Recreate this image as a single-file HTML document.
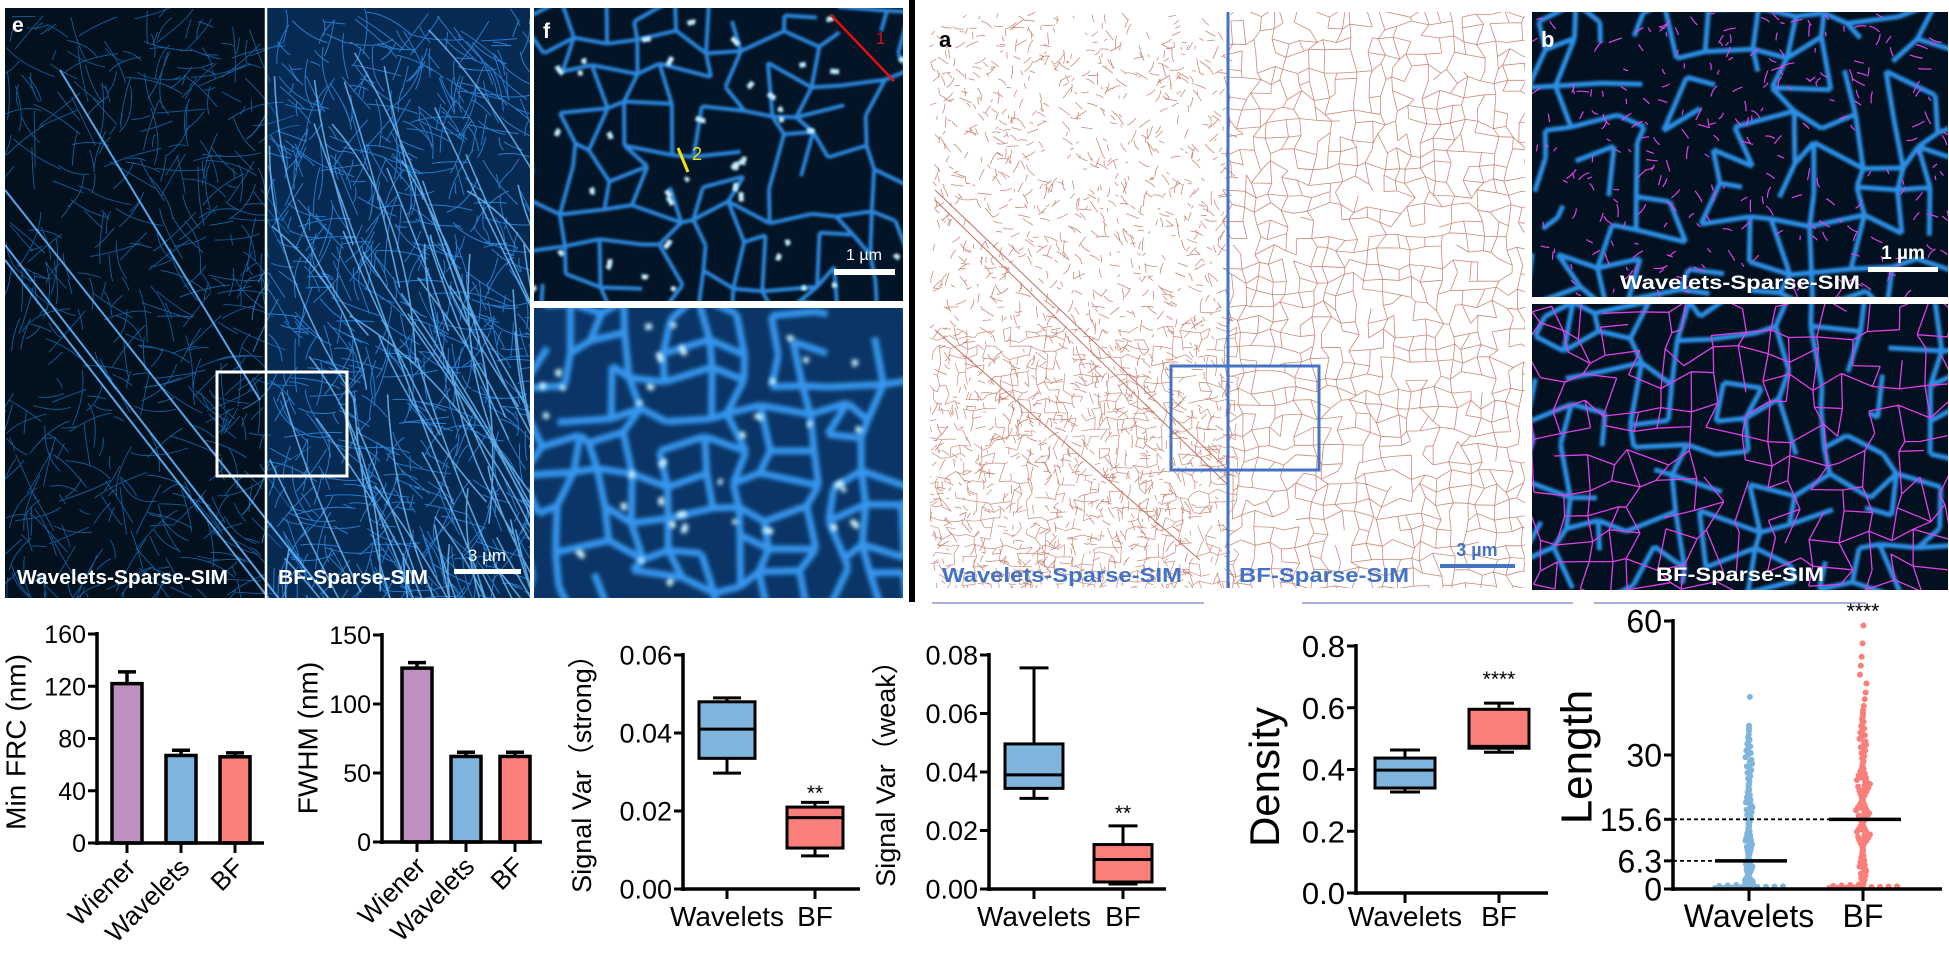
<!DOCTYPE html>
<html><head><meta charset="utf-8"><title>Sparse-SIM figure</title>
<style>
html,body{margin:0;padding:0;background:#fff;}
svg{display:block;font-family:"Liberation Sans",Arial,sans-serif;}
</style></head>
<body>
<svg id="fig" width="1949" height="953" viewBox="0 0 1949 953" xmlns="http://www.w3.org/2000/svg">
<defs>
<clipPath id="cE"><rect x="5" y="8" width="525" height="590"/></clipPath>
<clipPath id="cF1"><rect x="534" y="8" width="369" height="293"/></clipPath>
<clipPath id="cF2"><rect x="534" y="308" width="369" height="290"/></clipPath>
<clipPath id="cA"><rect x="930" y="12" width="595" height="576"/></clipPath>
<clipPath id="cB1"><rect x="1532" y="12" width="416" height="285"/></clipPath>
<clipPath id="cB2"><rect x="1532" y="304" width="416" height="286"/></clipPath>
<filter id="bl1"><feGaussianBlur stdDeviation="1.2"/></filter>
<filter id="bl2"><feGaussianBlur stdDeviation="2.2"/></filter>
</defs>
<g id="tex"></g>
<g id="overlay">
  <rect x="217" y="372" width="130" height="104" fill="none" stroke="#fff" stroke-width="3"/>
  <line x1="266" y1="8" x2="266" y2="598" stroke="#fff" stroke-width="2.5"/>
  <text x="12" y="32" fill="#fff" font-weight="bold" font-size="21">e</text>
  <rect x="454" y="569" width="67" height="5" fill="#fff"/>
  <text x="487" y="561" fill="#fff" font-size="17" text-anchor="middle">3 µm</text>
  <text x="17" y="584" fill="#fff" font-weight="bold" font-size="20" textLength="211" lengthAdjust="spacingAndGlyphs">Wavelets-Sparse-SIM</text>
  <text x="278" y="584" fill="#fff" font-weight="bold" font-size="20" textLength="150" lengthAdjust="spacingAndGlyphs">BF-Sparse-SIM</text>
  <text x="543" y="38" fill="#fff" font-weight="bold" font-size="21">f</text>
  <line x1="831" y1="15" x2="894" y2="81" stroke="#e01010" stroke-width="2.5"/>
  <text x="876" y="44" fill="#e01010" font-size="17">1</text>
  <line x1="678" y1="148" x2="688" y2="172" stroke="#f5e010" stroke-width="3"/>
  <text x="692" y="160" fill="#f5e010" font-size="18">2</text>
  <rect x="834" y="269" width="61" height="6" fill="#fff"/>
  <text x="864" y="260" fill="#fff" font-size="16" text-anchor="middle">1 µm</text>
  <rect x="903" y="0" width="27" height="600" fill="#fff"/>
  <rect x="909" y="0" width="6" height="602" fill="#000"/>
  <line x1="1228" y1="12" x2="1228" y2="588" stroke="#4472c4" stroke-width="3"/>
  <rect x="1171" y="366" width="148" height="104" fill="none" stroke="#4472c4" stroke-width="3"/>
  <text x="939" y="47" fill="#000" font-weight="bold" font-size="22">a</text>
  <rect x="1440" y="564" width="75" height="4" fill="#4472c4"/>
  <text x="1477" y="556" fill="#4472c4" font-weight="bold" font-size="18" text-anchor="middle">3 µm</text>
  <text x="942" y="582" fill="#4472c4" font-weight="bold" font-size="20" textLength="240" lengthAdjust="spacingAndGlyphs">Wavelets-Sparse-SIM</text>
  <text x="1239" y="582" fill="#4472c4" font-weight="bold" font-size="20" textLength="170" lengthAdjust="spacingAndGlyphs">BF-Sparse-SIM</text>
  <rect x="1532" y="297" width="416" height="7" fill="#fff"/>
  <text x="1541" y="47" fill="#fff" font-weight="bold" font-size="22">b</text>
  <rect x="1868" y="267" width="70" height="5" fill="#fff"/>
  <text x="1903" y="259" fill="#fff" font-weight="bold" font-size="19" text-anchor="middle">1 µm</text>
  <text x="1740" y="289" fill="#fff" font-weight="bold" font-size="19" text-anchor="middle" textLength="240" lengthAdjust="spacingAndGlyphs">Wavelets-Sparse-SIM</text>
  <text x="1740" y="581" fill="#fff" font-weight="bold" font-size="19" text-anchor="middle" textLength="168" lengthAdjust="spacingAndGlyphs">BF-Sparse-SIM</text>
  <line x1="932" y1="603" x2="1204" y2="603" stroke="#aab0dd" stroke-width="2"/>
  <line x1="1302" y1="603" x2="1573" y2="603" stroke="#aab0dd" stroke-width="2"/>
  <line x1="1594" y1="603" x2="1866" y2="603" stroke="#aab0dd" stroke-width="2"/>
</g>
<g id="charts"></g>
</svg>
<script>
// ---------- chart data ----------
const barCats = ["Wiener", "Wavelets", "BF"];
const frcVals = [122, 67, 66];
const frcErr = [131, 71, 69];
const frcTicks = [0, 40, 80, 120, 160];
const fwhmVals = [126, 62, 62];
const fwhmErr = [130, 65, 65];
const fwhmTicks = [0, 50, 100, 150];
const boxCats = ["Wavelets", "BF"];
const strongWav = [0.0297, 0.0335, 0.041, 0.048, 0.049];
const strongBF = [0.0085, 0.0105, 0.0183, 0.021, 0.0222];
const strongTicks = ["0.00", "0.02", "0.04", "0.06"];
const weakWav = [0.031, 0.0344, 0.039, 0.0496, 0.0756];
const weakBF = [0.0017, 0.0024, 0.0101, 0.0152, 0.0216];
const weakTicks = ["0.00", "0.02", "0.04", "0.06", "0.08"];
const densWav = [0.327, 0.340, 0.398, 0.437, 0.463];
const densBF = [0.456, 0.469, 0.475, 0.595, 0.615];
const densTicks = ["0.0", "0.2", "0.4", "0.6", "0.8"];
const lenTicks = [0, 6.3, 15.6, 30, 60];
const lenMedians = [6.3, 15.6];
const wavLengths = [0.2,0.25,0.3,0.35,0.4,0.45,0.5,0.55,0.6,0.7,0.8,0.9,1,1.1,1.3,1.5,1.8,2,2.3,2.6,3,3.3,3.7,4.1,4.5,5,5.5,6,6.6,7.2,7.8,8.5,9.2,10,10.8,11.6,12.5,13.4,14.3,15.2,16.2,17.2,18.3,19.4,20.5,21.6,22.8,24,25.3,26.6,28,29.5,31,32.5,34,36,43];
const bfLengths = [0.2,0.25,0.3,0.35,0.4,0.45,0.5,0.55,0.6,0.7,0.8,0.9,1,1.3,2,3,4,5,6,7,8,9,10,10.8,11.5,12.2,12.8,13.4,14,14.6,15.2,15.8,16.4,17,17.6,18.2,18.8,19.5,20.2,21,21.8,22.6,23.5,24.4,25.4,26.4,27.5,28.6,29.8,31,32.3,33.6,35,36.5,38,39.5,41,42.5,44,46,48,50,52,55,59];

const NS = 'http://www.w3.org/2000/svg';
function mk(tag, attrs, parent) {
  const e = document.createElementNS(NS, tag);
  for (const k in attrs) e.setAttribute(k, attrs[k]);
  parent.appendChild(e);
  return e;
}
const charts = document.getElementById('charts');

function axes(g, ax, y0, yTop, xEnd, tickVals, tickLabels, yScale, fs, label, labelX, labelY, labelFs) {
  let e = mk('line', {x1: ax, y1: yTop - 2, x2: ax, y2: y0 + 2, stroke: '#000', 'stroke-width': 3.5}, g);
  
  
  e = mk('line', {x1: ax - 2, y1: y0, x2: xEnd, y2: y0, stroke: '#000', 'stroke-width': 3.5}, g);
  
  
  tickVals.forEach((v, i) => {
    const y = yScale(v);
    let t = mk('line', {x1: ax - 9, y1: y, x2: ax, y2: y, stroke: '#000', 'stroke-width': 3}, g);
    
    
    let tx = mk('text', {x: ax - 11, y: y + fs * 0.36, 'font-size': fs, 'text-anchor': 'end', fill: '#000'}, g);
    tx.textContent = tickLabels[i];
    
    
  });
  let yl = mk('text', {x: labelX, y: labelY, 'font-size': labelFs, 'text-anchor': 'middle', fill: '#000', transform: `rotate(-90 ${labelX} ${labelY})`, 'dominant-baseline': 'middle'}, g);
  yl.textContent = label;
  
  
}

function barChart(name, ax, y0, yTop, maxV, xEnd, vals, errs, ticks, label, labelX, labelY, gap0, step) {
  const g = mk('g', {}, charts);
  
  
  const ys = v => y0 - (v / maxV) * (y0 - yTop);
  const colors = ['#bf8fbf', '#7fb5dc', '#fa7f7a'];
  vals.forEach((v, i) => {
    const cx = ax + gap0 + i * step;
    let eb = mk('line', {x1: cx, y1: ys(errs[i]), x2: cx, y2: ys(v), stroke: '#000', 'stroke-width': 3.5}, g);
    
    
    let ec = mk('line', {x1: cx - 9, y1: ys(errs[i]), x2: cx + 9, y2: ys(errs[i]), stroke: '#000', 'stroke-width': 3.5}, g);
    
    
    let r = mk('rect', {x: cx - 15, y: ys(v), width: 30, height: y0 - ys(v), fill: colors[i], stroke: '#000', 'stroke-width': 3.5}, g);
    
    
    let t = mk('line', {x1: cx, y1: y0, x2: cx, y2: y0 + 10, stroke: '#000', 'stroke-width': 3}, g);
    
    
    let lx = cx + 10, ly = y0 + 26;
    let tl = mk('text', {x: lx, y: ly, 'font-size': 26, 'text-anchor': 'end', fill: '#000', transform: `rotate(-45 ${lx} ${ly})`}, g);
    tl.textContent = barCats[i];
    
    
  });
  axes(g, ax, y0, yTop, xEnd, ticks, ticks.map(String), ys, 25, label, labelX, labelY, 28);
}

function boxChart(name, ax, y0, yTop, maxV, xEnd, series, ticks, label, labelX, labelY, labelFs, tickFs, centers, hw, stars, starY) {
  const g = mk('g', {}, charts);
  
  
  const ys = v => y0 - (v / maxV) * (y0 - yTop);
  const colors = ['#7fb5dc', '#fa7f7a'];
  series.forEach((s, i) => {
    const cx = centers[i];
    let w = mk('line', {x1: cx, y1: ys(s[4]), x2: cx, y2: ys(s[0]), stroke: '#000', 'stroke-width': 3}, g);
    
    
    [s[0], s[4]].forEach(v => {
      let c = mk('line', {x1: cx - hw / 2, y1: ys(v), x2: cx + hw / 2, y2: ys(v), stroke: '#000', 'stroke-width': 3}, g);
      
      
    });
    let b = mk('rect', {x: cx - hw, y: ys(s[3]), width: hw * 2, height: ys(s[1]) - ys(s[3]), fill: colors[i], stroke: '#000', 'stroke-width': 3}, g);
    
    
    let m = mk('line', {x1: cx - hw, y1: ys(s[2]), x2: cx + hw, y2: ys(s[2]), stroke: '#000', 'stroke-width': 3}, g);
    
    
    let t = mk('line', {x1: cx, y1: y0, x2: cx, y2: y0 + 10, stroke: '#000', 'stroke-width': 3}, g);
    
    
    let tl = mk('text', {x: cx, y: 926, 'font-size': 28, 'text-anchor': 'middle', fill: '#000'}, g);
    tl.textContent = boxCats[i];
    
    
  });
  let st = mk('text', {x: centers[1], y: starY, 'font-size': 21, 'text-anchor': 'middle', fill: '#000'}, g);
  st.textContent = stars;
  
  
  axes(g, ax, y0, yTop, xEnd, ticks.map(Number), ticks, ys, tickFs, label, labelX, labelY, labelFs);
}

barChart('min-frc-chart', 97, 843, 634, 160, 264, frcVals, frcErr, frcTicks, 'Min FRC (nm)', 18, 742, 30, 54);
barChart('fwhm-chart', 382, 842, 635, 150, 542, fwhmVals, fwhmErr, fwhmTicks, 'FWHM (nm)', 310, 738, 35, 49);
boxChart('signal-var-strong-chart', 683, 889, 655, 0.06, 860, [strongWav, strongBF], strongTicks, 'Signal Var（strong）', 584, 767, 27, 27, [727, 815], 28, '**', 800);
boxChart('signal-var-weak-chart', 989, 889, 655, 0.08, 1166, [weakWav, weakBF], weakTicks, 'Signal Var（weak）', 888, 767, 27, 27, [1034, 1123], 29, '**', 820);
boxChart('density-chart', 1356, 893, 646, 0.8, 1548, [densWav, densBF], densTicks, 'Density', 1268, 777, 42, 31, [1405, 1499], 30, '****', 686);

// Length scatter chart
(function () {
  const g = mk('g', {}, charts);
  
  
  const ax = 1673, y0 = 889, yTop = 621, maxV = 60;
  const ys = v => y0 - (v / maxV) * (y0 - yTop);
  const centers = [1749, 1863];
  const colors = ['#7fb5dc', '#fa7f7a'];
  [wavLengths, bfLengths].forEach((arr, s) => {
    arr.forEach((v, i) => {
      const spread = v < 1.2 ? 34 : (v < 4 ? 4 : (s === 1 && v > 10 && v < 28 ? 7 : 3.5));
      const dx = (((i * 53) % 17) / 16 - 0.5) * 2 * spread;
      let p = mk('circle', {cx: centers[s] + dx, cy: ys(v), r: 3, fill: colors[s]}, g);
      
      
      if (v > 1.2 && v < 40) {
        let p2 = mk('circle', {cx: centers[s] - dx * 0.7, cy: ys(v) + 2.5, r: 3, fill: colors[s]}, g);
        
        
        let p3 = mk('circle', {cx: centers[s] + dx * 0.3, cy: ys(v) - 2.5, r: 3, fill: colors[s]}, g);
        
        
      }
    });
    const mv = lenMedians[s];
    let dl = mk('line', {x1: ax, y1: ys(mv), x2: centers[s] - 34, y2: ys(mv), stroke: '#000', 'stroke-width': 1.8, 'stroke-dasharray': '4 3'}, g);
    
    
    let ml = mk('line', {x1: centers[s] - 34, y1: ys(mv), x2: centers[s] + 38, y2: ys(mv), stroke: '#000', 'stroke-width': 3.5}, g);
    
    
    let t = mk('line', {x1: centers[s], y1: y0, x2: centers[s], y2: y0 + 12, stroke: '#000', 'stroke-width': 3}, g);
    
    
    let tl = mk('text', {x: centers[s], y: 927, 'font-size': 32, 'text-anchor': 'middle', fill: '#000'}, g);
    tl.textContent = boxCats[s];
    
    
  });
  let st = mk('text', {x: 1863, y: 618, 'font-size': 21, 'text-anchor': 'middle', fill: '#000'}, g);
  st.textContent = '****';
  
  
  axes(g, ax, y0, yTop, 1942, lenTicks, lenTicks.map(String), ys, 32, 'Length', 1580, 757, 44);
})();

// ---------- decorative image textures ----------
const tex = document.getElementById('tex');
function rngMaker(seed) { return function () { seed |= 0; seed = seed + 0x6D2B79F5 | 0; let t = Math.imul(seed ^ seed >>> 15, 1 | seed); t = t + Math.imul(t ^ t >>> 7, 61 | t) ^ t; return ((t ^ t >>> 14) >>> 0) / 4294967296; }; }
const R = rngMaker(12345);
function fibers(x, y, w, h, n, lmin, lmax, ang, spread) {
  let d = '';
  for (let i = 0; i < n; i++) {
    const x0 = x + R() * w, y0 = y + R() * h;
    const a = ang + (R() - 0.5) * spread, L = lmin + R() * (lmax - lmin);
    const x1 = x0 + Math.cos(a) * L, y1 = y0 + Math.sin(a) * L;
    const cx = (x0 + x1) / 2 + (R() - 0.5) * L * 0.4, cy = (y0 + y1) / 2 + (R() - 0.5) * L * 0.4;
    d += `M${x0.toFixed(1)} ${y0.toFixed(1)}Q${cx.toFixed(1)} ${cy.toFixed(1)} ${x1.toFixed(1)} ${y1.toFixed(1)}`;
  }
  return d;
}
function net(x, y, w, h, cell, prob) {
  const cols = Math.ceil(w / cell) + 1, rows = Math.ceil(h / cell) + 1, pts = [];
  for (let j = 0; j < rows; j++) { pts.push([]); for (let i = 0; i < cols; i++) pts[j].push([x + i * cell + (R() - 0.5) * cell * 0.8, y + j * cell + (R() - 0.5) * cell * 0.8]); }
  let d = '';
  for (let j = 0; j < rows; j++) for (let i = 0; i < cols; i++) {
    const p = pts[j][i];
    if (i + 1 < cols && R() < prob) d += `M${p[0].toFixed(1)} ${p[1].toFixed(1)}L${pts[j][i + 1][0].toFixed(1)} ${pts[j][i + 1][1].toFixed(1)}`;
    if (j + 1 < rows && R() < prob) d += `M${p[0].toFixed(1)} ${p[1].toFixed(1)}L${pts[j + 1][i][0].toFixed(1)} ${pts[j + 1][i][1].toFixed(1)}`;
  }
  return d;
}
function panel(clip, name) {
  const g = mk('g', {'clip-path': `url(#${clip})`}, tex);
  
  
  return g;
}
function layer(g, d, attrs) {
  const p = mk('path', Object.assign({d: d, fill: 'none'}, attrs), g);
  
  
  return p;
}
function bg(g, x, y, w, h, fill) {
  const r = mk('rect', {x: x, y: y, width: w, height: h, fill: fill}, g);
  
  
}
let gE = panel('cE', 'panel-e-image');
bg(gE, 5, 8, 261, 590, '#03111f');
bg(gE, 266, 8, 264, 590, '#072a52');
layer(gE, fibers(5, 8, 261, 590, 500, 10, 60, 1.0, 3), {stroke: '#1a78c8', 'stroke-width': 0.9, opacity: 0.75});
layer(gE, fibers(266, 8, 264, 590, 700, 10, 60, 1.1, 2.5), {stroke: '#2e90ea', 'stroke-width': 1, opacity: 0.8});
layer(gE, fibers(266, 8, 264, 590, 60, 150, 420, 1.15, 0.4), {stroke: '#6fc0ff', 'stroke-width': 1.6, opacity: 0.8});
layer(gE, 'M5 190L330 600M5 245L280 600M5 260L270 600M60 70L260 400', {stroke: '#5fb6ff', 'stroke-width': 2, opacity: 0.9});
let gF1 = panel('cF1', 'panel-f-top-image');
bg(gF1, 534, 8, 369, 293, '#031426');
layer(gF1, net(534, 8, 369, 293, 34, 0.65), {stroke: '#2a86dc', 'stroke-width': 4, filter: 'url(#bl1)'});
layer(gF1, fibers(534, 8, 369, 293, 40, 4, 10, 1.2, 3), {stroke: '#c8f0ff', 'stroke-width': 5, filter: 'url(#bl1)'});
let gF2 = panel('cF2', 'panel-f-bottom-image');
bg(gF2, 534, 308, 369, 290, '#0a3566');
layer(gF2, net(534, 308, 369, 290, 34, 0.7), {stroke: '#3596ee', 'stroke-width': 7, filter: 'url(#bl2)'});
layer(gF2, fibers(534, 308, 369, 290, 35, 4, 10, 1.2, 3), {stroke: '#d0f4ff', 'stroke-width': 6, filter: 'url(#bl2)'});
let gA = panel('cA', 'panel-a-skeleton');
bg(gA, 930, 12, 595, 576, '#ffffff');
layer(gA, fibers(930, 12, 298, 576, 1500, 3, 14, 1.3, 3), {stroke: '#c98a7a', 'stroke-width': 0.8});
layer(gA, net(930, 330, 298, 258, 9, 0.45), {stroke: '#c98a7a', 'stroke-width': 0.7});
layer(gA, net(1228, 12, 297, 576, 14, 0.78), {stroke: '#c98a7a', 'stroke-width': 0.8});
layer(gA, 'M935 190L1228 470M935 200L1228 485M935 330L1200 560', {stroke: '#c07060', 'stroke-width': 1});
let gB1 = panel('cB1', 'panel-b-top-image');
bg(gB1, 1532, 12, 416, 285, '#02101f');
layer(gB1, net(1532, 12, 416, 285, 36, 0.6), {stroke: '#2b8fe6', 'stroke-width': 5, filter: 'url(#bl1)'});
layer(gB1, fibers(1532, 12, 416, 285, 260, 4, 14, 1.5, 3), {stroke: '#e040e8', 'stroke-width': 1.2});
let gB2 = panel('cB2', 'panel-b-bottom-image');
bg(gB2, 1532, 304, 416, 286, '#02101f');
layer(gB2, net(1532, 304, 416, 286, 36, 0.6), {stroke: '#2b8fe6', 'stroke-width': 5, filter: 'url(#bl1)'});
layer(gB2, net(1532, 304, 416, 286, 26, 0.75), {stroke: '#e040e8', 'stroke-width': 1.3});
</script>
</body></html>
